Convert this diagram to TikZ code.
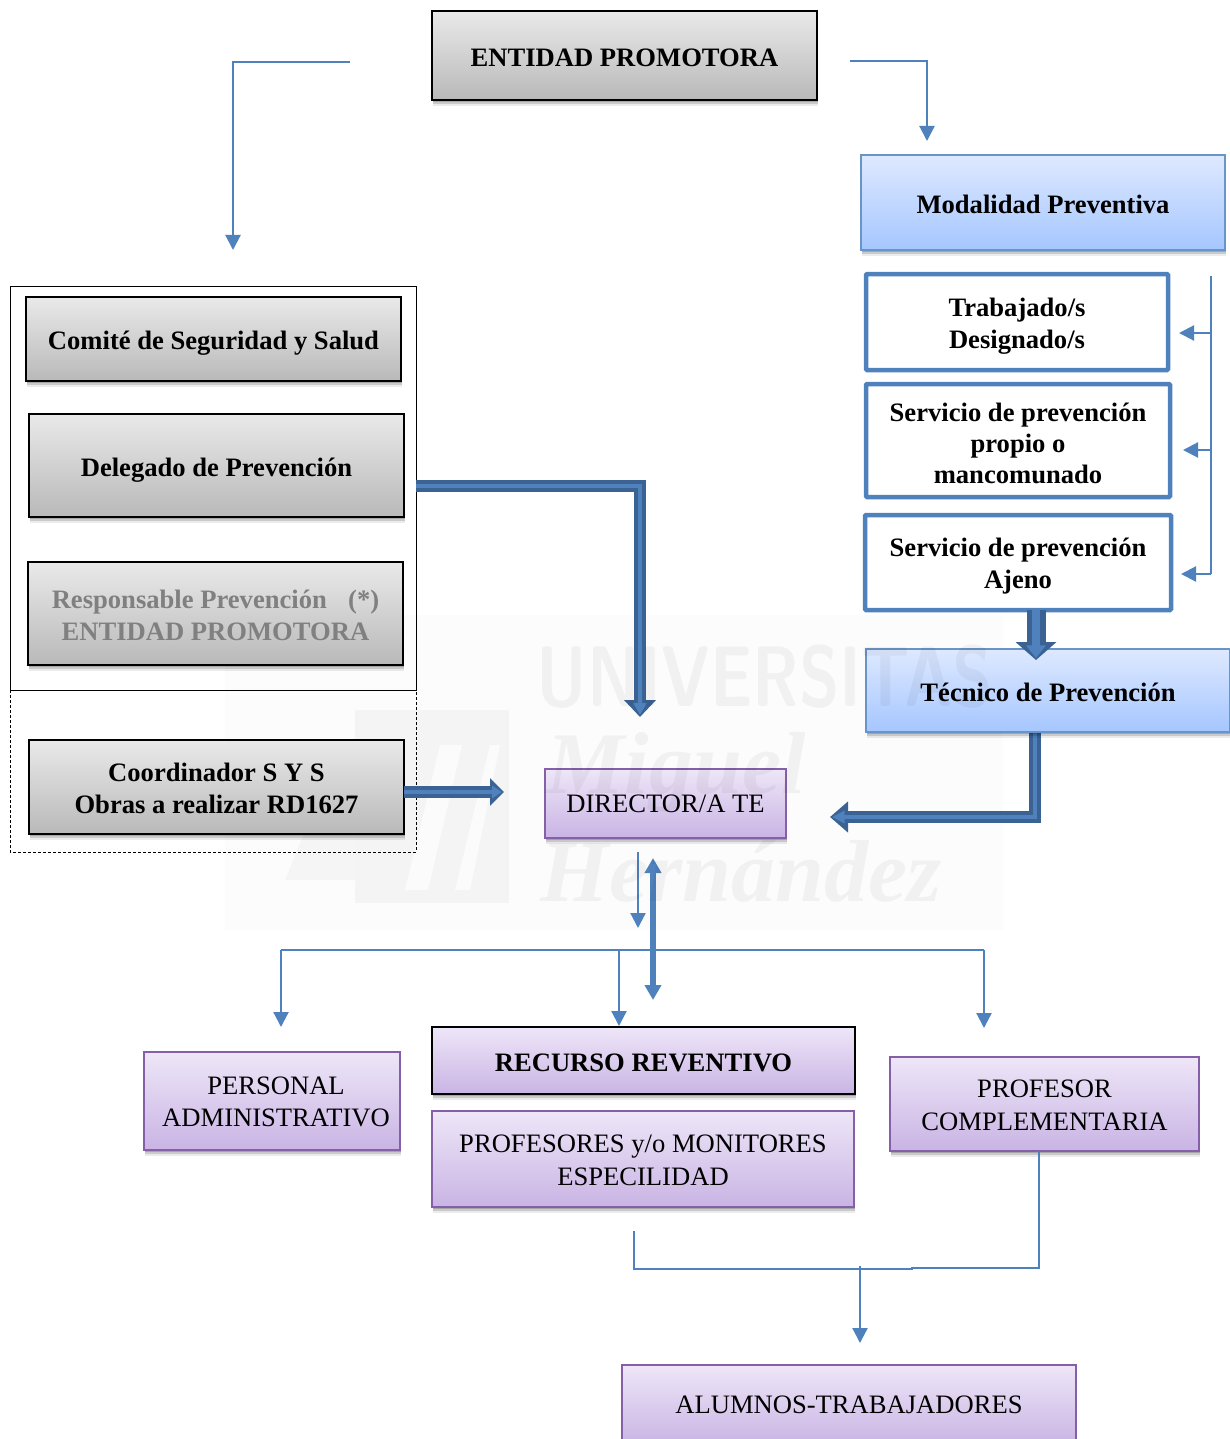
\documentclass[tikz,border=0pt]{standalone}
\usepackage{fontspec}
\setmainfont{Liberation Serif}
\usetikzlibrary{arrows.meta,shadows}
\definecolor{lnblue}{HTML}{4F81BD}
\definecolor{hvdark}{HTML}{3A6394}
\definecolor{hvlight}{HTML}{4F81BD}
\definecolor{pborder}{HTML}{8560A8}
\newcommand{\ls}[2]{\raisebox{-#1pt}[\height][\depth]{#2}}
\tikzset{
  x=1pt,y=-1pt,
  wh/.style 2 args={minimum width=#1pt,minimum height=#2pt},
  base/.style={rectangle,inner sep=0pt,outer sep=0pt,align=center,text=black,font=\fontsize{26.6}{32}\selectfont},
  shad/.style={
    drop shadow={shadow xshift=0.5pt,shadow yshift=-6pt,opacity=.08,fill=black},
    drop shadow={shadow xshift=0.5pt,shadow yshift=-4pt,opacity=.14,fill=black},
    drop shadow={shadow xshift=0.5pt,shadow yshift=-2pt,opacity=.18,fill=black}},
  graybox/.style={base,shad,draw=black,line width=2pt,top color=gray!17!white,bottom color=gray!55!white,font=\fontsize{26.6}{32}\selectfont\bfseries},
  bluebox/.style={base,shad,draw=lnblue!85!white,line width=1.5pt,top color={rgb,255:red,222;green,233;blue,255},bottom color={rgb,255:red,165;green,198;blue,255},font=\fontsize{26.6}{32}\selectfont\bfseries},
  whitebox/.style={base,draw=lnblue,line width=4.5pt,rounded corners=1pt,fill=white,font=\fontsize{26.6}{31.5}\selectfont\bfseries},
  purplebox/.style={base,shad,draw=pborder,line width=1.5pt,top color={rgb,255:red,238;green,230;blue,248},bottom color={rgb,255:red,201;green,180;blue,228}},
  frame/.style={draw=black,line width=0.8pt},
  thin link/.style={draw=lnblue,line width=2.2pt,-{Triangle[width=15pt,length=15pt]}},
  plain link/.style={draw=lnblue,line width=2.2pt},
  medium link/.style={draw=lnblue,line width=5.5pt,{Triangle[width=16pt,length=15pt]}-{Triangle[width=16pt,length=15pt]}},
  mark text/.style={text=black,text opacity=.045,inner sep=0pt}
}
\newcommand{\heavyarrow}[4]{%
  \draw[draw=hvdark,line width=#1pt,-{Triangle[width=#2pt,length=#3pt]}] #4;
  \draw[draw=hvlight,line width=#1pt*0.38,shorten >=2pt,-{Triangle[width=#1pt,length=#3pt*0.7]}] #4;
}
\begin{document}
\begin{tikzpicture}
\useasboundingbox (0,0) rectangle (1230,1439);
\clip (0,0) rectangle (1230,1439);

% faint logo of the watermark, under everything
\fill[black!1.2] (225,615) rectangle (1003,930);
\fill[black!4.5] (355,710) rectangle (509,903);
\fill[black!4] (285,880) -- (330,770) -- (355,770) -- (355,880) -- cycle;
\fill[black!1.5] (405,890) -- (440,745) -- (462,745) -- (428,890) -- cycle;
\fill[black!1.5] (455,890) -- (490,745) -- (500,745) -- (470,890) -- cycle;

% free ends of connectors
\coordinate (leftstart) at (350,62);
\coordinate (leftbend) at (233,62);
\coordinate (leftend) at (233,250);
\coordinate (rightstart) at (850,61);
\coordinate (rightbend) at (927,61);
\coordinate (rightend) at (927,141);
\coordinate (bracktop) at (1211,276);
\coordinate (brackbot) at (1211,574);
\coordinate (brack1) at (1211,333);
\coordinate (brack2) at (1211,450);
\coordinate (tip1) at (1179,333);
\coordinate (tip2) at (1183,450);
\coordinate (tip3) at (1181,574);
\coordinate (delstart) at (417,486);
\coordinate (delbend) at (640,486);
\coordinate (delend) at (640,717);
\coordinate (coordend) at (504,792);
\coordinate (servend) at (1036,660);
\coordinate (tecbend) at (1035,817);
\coordinate (tecend) at (830,817);
\coordinate (dirA) at (638,852);
\coordinate (dirAend) at (638,928);
\coordinate (dirB) at (653,858);
\coordinate (dirBend) at (653,1000);
\coordinate (busL) at (281,950);
\coordinate (busM) at (619,950);
\coordinate (busR) at (984,950);
\coordinate (busLend) at (281,1027);
\coordinate (busRend) at (984,1028);
\coordinate (busMend) at (619,1026);
\coordinate (lowL) at (634,1231);
\coordinate (lowLb) at (634,1269);
\coordinate (lowS) at (912,1269);
\coordinate (lowSb) at (912,1268);
\coordinate (lowR) at (1039,1268);
\coordinate (lowM) at (860,1266);
\coordinate (lowMend) at (860,1343);

% frames
\draw[frame] (10,286) rectangle (416,690);
\draw[frame,densely dashed] (10,690) -- (10,852) -- (416,852) -- (416,690);
\coordinate (outerE) at (416,486);

% boxes
\node[graybox,wh={385}{89}] (entidad) at (624.5,55.5) {\ls{2}{ENTIDAD PROMOTORA}};
\node[bluebox,wh={364}{95}] (modalidad) at (1043,202.5) {\ls{2}{Modalidad Preventiva}};
\node[whitebox,wh={302}{96}] (trab) at (1017,322) {\ls{4}{Trabajado/s}\\\ls{4}{Designado/s}};
\node[whitebox,wh={304}{113}] (serv1) at (1018,440.5) {\ls{3}{Servicio de prevención}\\\ls{2.5}{propio o}\\\ls{2}{mancomunado}};
\node[whitebox,wh={306}{95}] (serv2) at (1018,562.5) {\ls{3.5}{Servicio de prevención}\\\ls{3.5}{Ajeno}};
\node[graybox,wh={375}{84}] (comite) at (213.5,339) {\ls{4}{Comité de Seguridad y Salud}};
\node[graybox,wh={375}{103}] (delegado) at (216.5,465.5) {\ls{5}{Delegado de Prevención}};
\node[graybox,wh={375}{103},text=gray,font=\fontsize{26.6}{32}\selectfont\bfseries] (resp) at (215.5,613.5) {\ls{2}{Responsable Prevención\hspace{0.55em} (*)}\\\ls{2}{ENTIDAD PROMOTORA}};
\node[graybox,wh={375}{94}] (coord) at (216.5,787) {\ls{1}{Coordinador S Y S}\\\ls{1}{Obras a realizar RD1627}};
\node[purplebox,wh={241}{69}] (director) at (665.5,803.5) {DIRECTOR/A TE};
\node[purplebox,wh={256}{98}] (personal) at (272,1101) {\hspace*{8pt}\ls{1}{PERSONAL}\\\hspace*{8pt}\ls{1}{ADMINISTRATIVO}};
\node[purplebox,wh={422}{96},font=\fontsize{26.6}{33}\selectfont] (profes) at (643,1159) {\ls{1}{PROFESORES y/o MONITORES}\\\ls{1}{ESPECILIDAD}};
\node[purplebox,wh={309}{94},font=\fontsize{26.6}{33}\selectfont] (profc) at (1044.5,1104) {\ls{1}{PROFESOR}\\\ls{1}{COMPLEMENTARIA}};
\node[purplebox,wh={454}{80}] (alumnos) at (849,1405) {ALUMNOS-TRABAJADORES};

% connectors
\draw[thin link] (leftstart) -- (leftbend) -- (leftend);
\draw[thin link] (rightstart) -- (rightbend) -- (rightend);
\draw[plain link] (bracktop) -- (brackbot);
\draw[thin link] (brackbot) -- (tip3);
\draw[thin link] (brack1) -- (tip1);
\draw[thin link] (brack2) -- (tip2);
\draw[thin link] (dirA) -- (dirAend);
\draw[plain link] (busL) -- (busR);
\draw[thin link] (busL) -- (busLend);
\draw[thin link] (busR) -- (busRend);
\draw[medium link] (dirB) -- (dirBend);
\draw[plain link] (lowL) -- (lowLb) -- (lowS) -- (lowSb) -- (lowR) -- (profc.south -| lowR);
\draw[thin link] (lowM) -- (lowMend);

\heavyarrow{12.5}{31}{17}{(outerE |- delstart) -- (delbend) -- (delend)}
\heavyarrow{12}{27}{14}{(coord.east |- coordend) -- (coordend)}
\heavyarrow{12}{30}{18}{(tecbend |- 0,732) -- (tecbend) -- (tecend)}

\node[bluebox,wh={364}{83}] (tecnico) at (1048,690.5) {\ls{2}{Técnico de Prevención}};
\node[purplebox,draw=black,line width=2pt,wh={423}{67},font=\fontsize{26.6}{32}\selectfont\bfseries] (recurso) at (643.5,1060.5) {\ls{2}{RECURSO REVENTIVO}};
\heavyarrow{19}{40}{18}{(serv2.south -| servend) -- (servend)}
\draw[thin link] (busM) -- (busMend);

% faint watermark lettering
\node[mark text,font=\fontsize{86}{86}\selectfont\sffamily\bfseries] (markA) at (765,677) {\scalebox{.77}[1]{UNIVERSITAS}};
\node[mark text,font=\fontsize{88}{88}\selectfont\bfseries\itshape] (markB) at (676,772) {Miguel};
\node[mark text,font=\fontsize{88}{88}\selectfont\bfseries\itshape] (markC) at (741,871) {Hernández};
\end{tikzpicture}
\end{document}
